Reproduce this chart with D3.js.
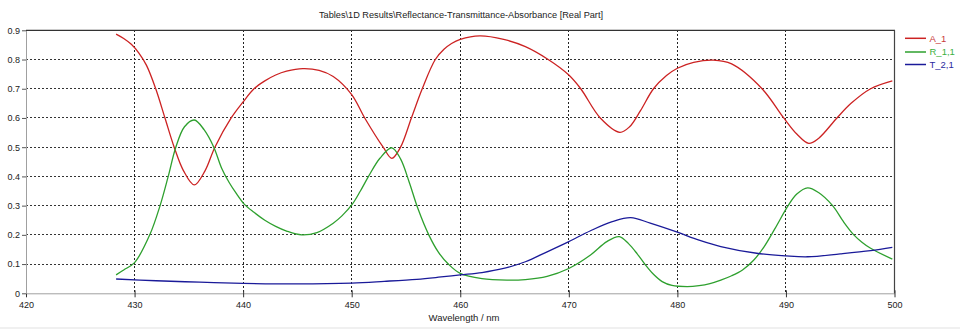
<!DOCTYPE html>
<html><head><meta charset="utf-8">
<script src="https://cdn.jsdelivr.net/npm/d3@7"></script>
<style>
html,body{margin:0;padding:0;background:#fff;}
svg{display:block;font-family:"Liberation Sans","DejaVu Sans",sans-serif;}
</style></head>
<body><svg id="c" width="960" height="329"></svg>
<script>
const title = "Tables\\1D Results\\Reflectance-Transmittance-Absorbance [Real Part]";
const xLabel = "Wavelength / nm";
const xTicks = [420,430,440,450,460,470,480,490,500];
const yTicks = [0,0.1,0.2,0.3,0.4,0.5,0.6,0.7,0.8,0.9];
const seriesNames = ["A_1","R_1,1","T_2,1"];
const seriesColors = ["#cc2222","#2ea02e","#1a1a99"];
const legendTextColors = ["#c83a3a","#3cb03c","#2a2aa0"];

const wlA = [428.3,429,429.7,430.4,431.1,431.95,432.8,433.65,434.5,435.5,436.5,437.4,438.9,440,441,442,443,444,445.5,447,448.3,450,451.2,452.9,453.7,454.5,455.5,456.5,457.7,458.5,459.2,460,461.8,464,466,468.1,470,471.1,472.9,474.7,475.6,476.6,477.8,479,480,481.5,483.3,485,487.8,489.8,491,492.1,493,494.7,496,497.8,499.8];
const valA = [0.887,0.872,0.852,0.822,0.78,0.70,0.60,0.50,0.42,0.371,0.42,0.50,0.60,0.655,0.70,0.727,0.747,0.760,0.769,0.763,0.742,0.68,0.60,0.50,0.462,0.50,0.60,0.70,0.80,0.835,0.855,0.869,0.881,0.869,0.844,0.80,0.747,0.70,0.60,0.551,0.57,0.625,0.70,0.745,0.77,0.79,0.798,0.785,0.70,0.60,0.545,0.513,0.53,0.60,0.65,0.70,0.727];

const wlR = [428.3,429,430,431.4,432.35,433.1,433.8,434.6,435.5,436.4,437.3,438.0,438.7,439.4,440.1,441,442,443,444,445.4,446.8,448.3,449.1,450.06,450.8,451.55,452.6,453.7,454.5,455.3,456.1,457.1,458,458.9,460,462,464.3,466,468,470,472,473.5,474.65,475.5,476.3,477,477.8,478.6,479.5,480.9,482,483,484,485,486,487,488,489,490.2,491,492,493,494.3,495.3,496.25,497,497.8,499.8];
const valR = [0.063,0.08,0.105,0.2,0.3,0.4,0.5,0.57,0.593,0.56,0.5,0.43,0.38,0.34,0.305,0.277,0.25,0.229,0.213,0.2,0.208,0.24,0.265,0.305,0.35,0.4,0.462,0.498,0.46,0.38,0.29,0.2,0.14,0.1,0.068,0.05,0.045,0.047,0.058,0.085,0.131,0.177,0.194,0.17,0.135,0.1,0.065,0.04,0.027,0.023,0.026,0.033,0.045,0.06,0.08,0.112,0.16,0.222,0.3,0.34,0.361,0.345,0.3,0.245,0.2,0.175,0.154,0.117];

const wlT = [428.3,432,436,440,445,450,453,456,458,460,462,464,466,468,470,472,474,475.7,477.5,480,482,484,487.3,490,492,495,497.8,499.8];
const valT = [0.049,0.043,0.038,0.034,0.032,0.035,0.041,0.048,0.055,0.063,0.071,0.085,0.108,0.142,0.177,0.214,0.245,0.259,0.240,0.209,0.182,0.16,0.137,0.128,0.125,0.135,0.146,0.157];

const series = [
  {name:seriesNames[0], x:wlA, y:valA},
  {name:seriesNames[1], x:wlR, y:valR},
  {name:seriesNames[2], x:wlT, y:valT}
];

const svg = d3.select("#c");
const L=26, R=894.5, T=30.3, B=293.3;
const x = d3.scaleLinear().domain([420,500]).range([L,R]);
const y = d3.scaleLinear().domain([0,0.9]).range([B,T]);

svg.append("rect").attr("x",0).attr("y",327).attr("width",960).attr("height",2).attr("fill","#f0f0f0");

svg.append("text").attr("x",461).attr("y",18).attr("text-anchor","middle")
  .attr("font-size","9.2px").attr("fill","#222").text(title);

const g = svg.append("g");
g.selectAll("line.vg").data(xTicks.slice(1,-1)).enter().append("line")
  .attr("x1",d=>x(d)).attr("x2",d=>x(d)).attr("y1",T).attr("y2",B)
  .attr("stroke","#222").attr("stroke-width",1).attr("stroke-dasharray","2,2").attr("shape-rendering","crispEdges");
g.selectAll("line.hg").data(yTicks.slice(1,-1)).enter().append("line")
  .attr("x1",L).attr("x2",R).attr("y1",d=>y(d)).attr("y2",d=>y(d))
  .attr("stroke","#333").attr("stroke-width",1).attr("stroke-dasharray","2,2").attr("shape-rendering","crispEdges");

const xAxis = d3.axisBottom(x).tickValues(xTicks).tickFormat(d3.format("d")).tickSizeInner(4).tickSizeOuter(0);
const xa = svg.append("g").attr("transform",`translate(0,${B})`).call(xAxis);
xa.select(".domain").attr("stroke","#a0a0a0");
xa.selectAll(".tick line").attr("stroke","#333").attr("y1",-3);
xa.selectAll(".tick text").attr("font-size","9px").attr("fill","#222").attr("font-family","Liberation Sans, DejaVu Sans, sans-serif").attr("dy","0.9em");

const yAxis = d3.axisLeft(y).tickValues(yTicks).tickFormat(d=>d===0?"0":d3.format(".1f")(d)).tickSizeInner(4).tickSizeOuter(0);
const ya = svg.append("g").attr("transform",`translate(${L},0)`).call(yAxis);
ya.select(".domain").attr("stroke","#a0a0a0");
ya.selectAll(".tick line").attr("stroke","#555");
ya.selectAll(".tick text").attr("font-size","9px").attr("fill","#222").attr("font-family","Liberation Sans, DejaVu Sans, sans-serif").attr("x",-6);

svg.append("line").attr("x1",L).attr("x2",R+0.5).attr("y1",T).attr("y2",T).attr("stroke","#333").attr("stroke-width",1.2);
svg.append("line").attr("x1",R).attr("x2",R).attr("y1",T).attr("y2",B).attr("stroke","#444").attr("stroke-width",1.2);

svg.append("text").attr("x",464).attr("y",321).attr("text-anchor","middle")
  .attr("font-size","9.5px").attr("fill","#222").text(xLabel);

const line = d3.line().x(d=>x(d[0])).y(d=>y(d[1])).curve(d3.curveCatmullRom.alpha(0.5));
series.forEach((s,i)=>{
  const pts = s.x.map((v,j)=>[v,s.y[j]]);
  svg.append("path").datum(pts).attr("d",line).attr("fill","none")
    .attr("stroke",seriesColors[i]).attr("stroke-width",1.3);
});

const lg = svg.append("g");
const ly = [38.3,52,64.5];
series.forEach((s,i)=>{
  lg.append("line").attr("x1",905).attr("x2",926).attr("y1",ly[i]).attr("y2",ly[i])
    .attr("stroke",seriesColors[i]).attr("stroke-width",1.5);
  lg.append("text").attr("x",929.5).attr("y",ly[i]+3.3).attr("font-size","9.5px")
    .attr("fill",legendTextColors[i]).text(s.name);
});
</script></body></html>
